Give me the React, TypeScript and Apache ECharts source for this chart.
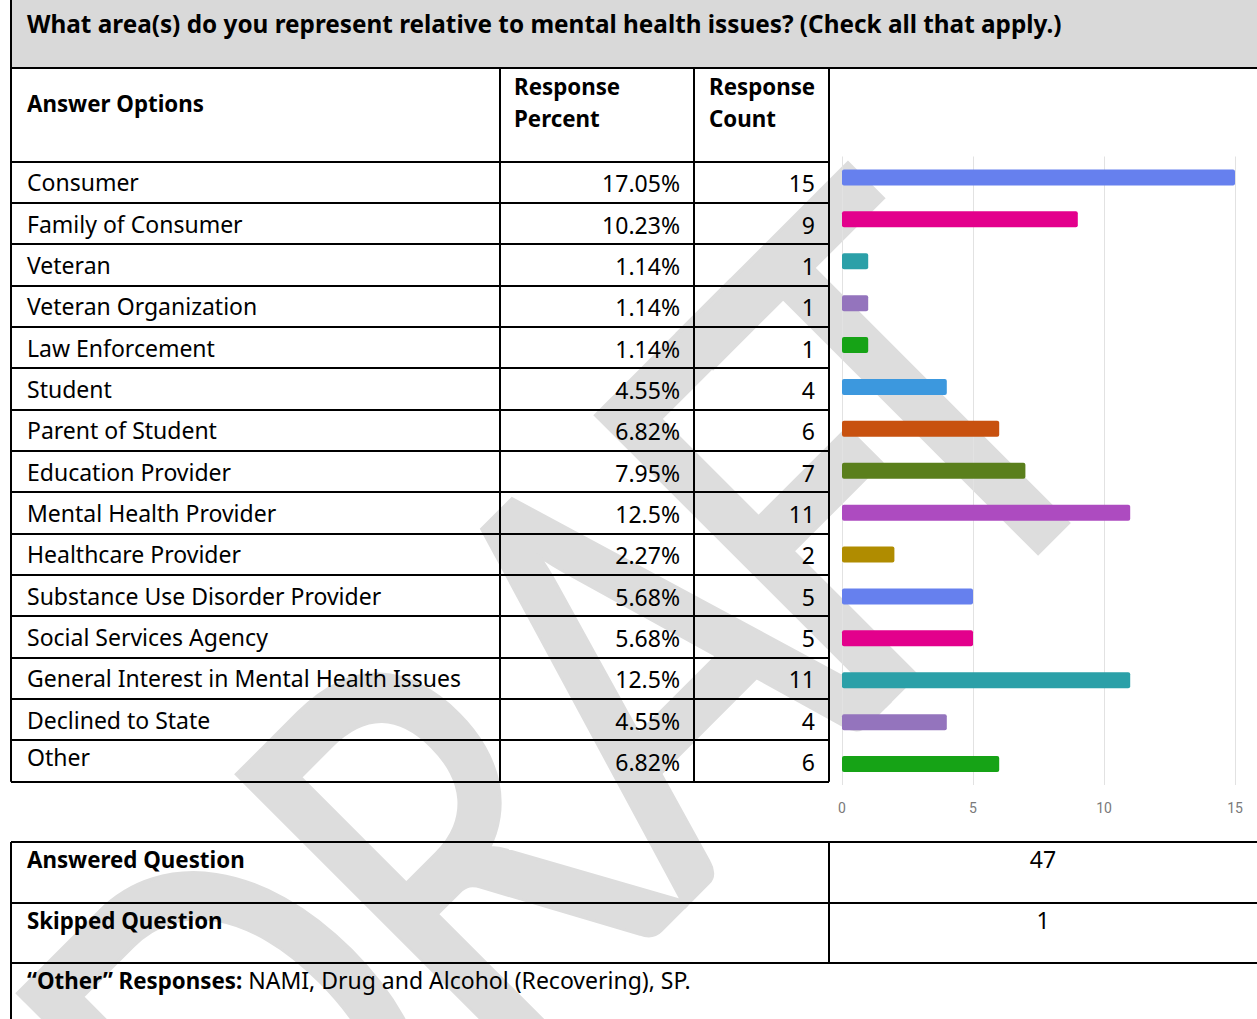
import React, { useEffect, useRef } from "react";
import * as echarts from "echarts";

const titleText = "What area(s) do you represent relative to mental health issues? (Check all that apply.)";
const headerAnswer = "Answer Options";
const headerPercent = ["Response", "Percent"];
const headerCount = ["Response", "Count"];

const categories = [
  "Consumer",
  "Family of Consumer",
  "Veteran",
  "Veteran Organization",
  "Law Enforcement",
  "Student",
  "Parent of Student",
  "Education Provider",
  "Mental Health Provider",
  "Healthcare Provider",
  "Substance Use Disorder Provider",
  "Social Services Agency",
  "General Interest in Mental Health Issues",
  "Declined to State",
  "Other",
];
const percents = [
  "17.05%", "10.23%", "1.14%", "1.14%", "1.14%", "4.55%", "6.82%", "7.95%",
  "12.5%", "2.27%", "5.68%", "5.68%", "12.5%", "4.55%", "6.82%",
];
const counts = [15, 9, 1, 1, 1, 4, 6, 7, 11, 2, 5, 5, 11, 4, 6];
const barColors = [
  "#6680ee", "#e3008c", "#2ba0a8", "#9474bd", "#16a316", "#3c98de", "#c8510f",
  "#5a7f1c", "#ad4bc0", "#b08c00", "#6680ee", "#e3008c", "#2ba0a8", "#9474bd", "#16a316",
];
const xTicks = [0, 5, 10, 15];

const answeredLabel = "Answered Question";
const answeredValue = 47;
const skippedLabel = "Skipped Question";
const skippedValue = 1;
const otherLabel = "\u201COther\u201D Responses:";
const otherText = "NAMI, Drug and Alcohol (Recovering), SP.";

const watermarkLetters = ["D", "R", "A", "F", "T"];

const W = 1257;
const H = 1019;
const FONT = "'Noto Sans', sans-serif";
const FS = 23;
const FSB = 22.3;
const FST = 24.3;

export default function App() {
  const ref = useRef<HTMLDivElement>(null);

  useEffect(() => {
    if (!ref.current) return;
    const chart = echarts.init(ref.current, undefined, { renderer: "svg" });

    const els: any[] = [];

    // watermark (letters placed along a 45° baseline)
    const wmU = [-566, -285, -12, 210, 364];
    const wmV = 904;
    watermarkLetters.forEach((ch, i) => {
      const u = wmU[i];
      els.push({
        type: "text",
        z: -10,
        x: (u + wmV) / Math.SQRT2,
        y: (wmV - u) / Math.SQRT2,
        rotation: Math.PI / 4,
        scaleX: 0.75,
        silent: true,
        style: {
          text: ch,
          fontSize: 568,
          fontFamily: "Lato",
          fill: "#dddddd",
          stroke: "#dddddd",
          lineWidth: 7,
          lineJoin: "round",
          align: "center",
          verticalAlign: "middle",
        },
      });
    });

    // title bar
    els.push({ type: "rect", z: 4, shape: { x: 11, y: 0, width: W - 11, height: 68 }, style: { fill: "#d9d9d9" } });

    const line = (x1: number, y1: number, x2: number, y2: number) =>
      els.push({ type: "line", z: 6, shape: { x1, y1, x2, y2 }, style: { stroke: "#000", lineWidth: 2 } });
    const text = (t: string, x: number, y: number, opts: any = {}) =>
      els.push({
        type: "text",
        z: 7,
        x,
        y,
        style: {
          text: t,
          fontSize: opts.fontSize || (opts.bold ? FSB : FS),
          fontFamily: FONT,
          fontWeight: opts.bold ? "bold" : "normal",
          fill: "#000",
          align: opts.align || "left",
          verticalAlign: "middle",
        },
      });

    // main table lines
    const rowTop = 161.7;
    const rowH = 41.33;
    const n = categories.length;
    const tableBottom = rowTop + rowH * n;
    line(11, 0, 11, tableBottom);
    line(11, 68, W, 68);
    [500, 694, 829].forEach((x) => line(x, 68, x, tableBottom));
    for (let i = 0; i <= n; i++) {
      const y = Math.round(rowTop + rowH * i);
      line(11, y, 829, y);
    }

    text(titleText, 27, 23, { bold: true, fontSize: FST });
    text(headerAnswer, 27, 103, { bold: true });
    text(headerPercent[0], 514, 86, { bold: true });
    text(headerPercent[1], 514, 118, { bold: true });
    text(headerCount[0], 709, 86, { bold: true });
    text(headerCount[1], 709, 118, { bold: true });

    categories.forEach((c, i) => {
      const cy = rowTop + rowH * i + rowH / 2;
      text(c, 27, i === n - 1 ? cy - 4 : cy);
      text(percents[i], 680, cy + 1, { align: "right" });
      text(String(counts[i]), 815, cy + 1, { align: "right" });
    });

    // bottom table
    [842, 903, 963].forEach((y) => line(11, y, W, y));
    line(11, 842, 11, H);
    line(829, 842, 829, 963);
    text(answeredLabel, 27, 859, { bold: true });
    text(String(answeredValue), 1043, 859, { align: "center" });
    text(skippedLabel, 27, 920, { bold: true });
    text(String(skippedValue), 1043, 920, { align: "center" });
    els.push({
      type: "text",
      z: 7,
      x: 27,
      y: 980,
      style: {
        text: "{b|" + otherLabel + "} " + otherText,
        fontSize: FS,
        fontFamily: FONT,
        fill: "#000",
        verticalAlign: "middle",
        rich: { b: { fontSize: FSB, fontFamily: FONT, fontWeight: "bold", fill: "#000" } },
      },
    });

    chart.setOption({
      animation: false,
      backgroundColor: "#ffffff",
      grid: { left: 842, right: W - 1235, top: 156.5, bottom: H - 785 },
      xAxis: {
        type: "value",
        min: xTicks[0],
        max: xTicks[xTicks.length - 1],
        interval: xTicks[1] - xTicks[0],
        axisLine: { show: false },
        axisTick: { show: false },
        axisLabel: { color: "#7a7a7a", fontSize: 14, fontFamily: "Roboto, sans-serif", margin: 16 },
        splitLine: { lineStyle: { color: "#e2e2e2", width: 1 } },
      },
      yAxis: {
        type: "category",
        data: categories,
        inverse: true,
        axisLine: { show: false },
        axisTick: { show: false },
        axisLabel: { show: false },
        splitLine: { show: false },
      },
      series: [
        {
          type: "bar",
          data: counts.map((v, i) => ({ value: v, itemStyle: { color: barColors[i] } })),
          barWidth: 16,
          itemStyle: { borderRadius: 2 },
          silent: true,
        },
      ],
      graphic: { elements: els },
    });

    return () => chart.dispose();
  }, []);

  return (
    <div
      ref={ref}
      style={{ position: "absolute", left: 0, top: 0, width: W, height: H, background: "#fff" }}
    />
  );
}
